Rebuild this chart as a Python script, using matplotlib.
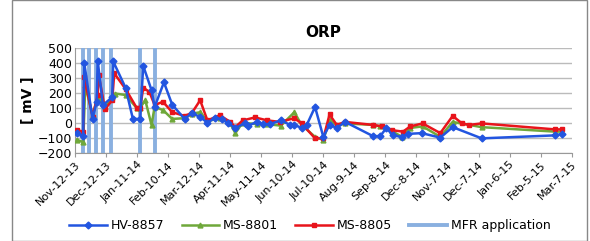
import matplotlib
matplotlib.use('Agg')
from matplotlib import pyplot as plt
from matplotlib.patches import Rectangle

# days after Nov-12-13 (x axis), values in mV
tick_labels = ['Nov-12-13', 'Dec-12-13', 'Jan-11-14', 'Feb-10-14', 'Mar-12-14',
               'Apr-11-14', 'May-11-14', 'Jun-10-14', 'Jul-10-14', 'Aug-9-14',
               'Sep-8-14', 'Dec-8-14', 'Nov-7-14', 'Dec-7-14', 'Jan-6-15',
               'Feb-5-15', 'Mar-7-15']
tick_days = [0, 30, 60, 90, 120, 150, 180, 210, 240, 270, 300, 330, 360, 390, 420, 450, 480]

hv_days = [2, 8, 9, 17, 21, 22, 27, 36, 37, 49, 56, 63, 66, 74, 77, 86, 94, 106,
           113, 121, 128, 135, 142, 148, 155, 164, 167, 176, 182, 188, 199, 208,
           212, 219, 224, 232, 240, 246, 253, 261, 288, 295, 301, 307, 316, 322,
           335, 353, 365, 393, 464, 471]
hv_8857 = [-70, -90, 400, 25, 140, 415, 118, 170, 410, 232, 25, 25, 380, 218, 105,
           270, 120, 25, 65, 37, 0, 30, 25, -5, -35, -5, -20, 5, -10, -10, 15, -15,
           -15, -35, -15, 105, -95, -15, -35, 5, -90, -90, -35, -85, -95, -75,
           -70, -100, -30, -105, -85, -75]

ms01_days = [2, 8, 10, 17, 22, 29, 36, 39, 49, 60, 63, 68, 74, 77, 85, 94, 106,
             113, 121, 128, 140, 150, 155, 162, 176, 186, 199, 212, 219, 232, 240,
             246, 253, 261, 288, 295, 306, 316, 324, 336, 353, 365, 393, 464, 471]
ms_8801 = [-115, -130, 250, 50, 170, 105, 170, 195, 185, 95, 100, 150, -15, 105,
           85, 25, 30, 60, 70, 10, 30, -5, -70, 0, -10, -10, -20, 70, -15, -95,
           -115, 15, -15, -5, -15, -25, -55, -95, -35, -25, -95, 5, -30, -60, -60]

ms05_days = [2, 8, 9, 17, 22, 23, 29, 36, 38, 49, 60, 63, 66, 72, 77, 85, 94, 106,
             113, 121, 128, 140, 150, 155, 162, 174, 186, 198, 212, 219, 232, 240,
             246, 253, 261, 288, 297, 306, 317, 324, 336, 353, 365, 374, 381, 393,
             464, 471]
ms_8805 = [-50, -60, 307, 40, 185, 320, 90, 150, 330, 225, 95, 95, 235, 205, 118,
           140, 70, 45, 65, 150, 15, 50, 5, -30, 15, 35, 15, 5, 30, -5, -105, -105,
           55, -15, 5, -15, -25, -50, -60, -25, -5, -70, 45, -5, -15, -5, -45, -45]

mfr_days = [8, 14, 20, 27, 35, 63, 77]

fig = plt.figure(figsize=(5.9, 2.41), dpi=100)
ax = fig.add_axes([0.127, 0.367, 0.842, 0.434])

# MFR application bars
for i, d in enumerate(mfr_days):
    ax.axvline(d, color='#8AB0E0', lw=2.8, zorder=1,
               label='MFR application' if i == 0 else None)

ax.plot(hv_days, hv_8857, c='#2255E0', marker='D', ms=3.5, lw=1.8, zorder=5, label='HV-8857')
ax.plot(ms01_days, ms_8801, c='#6FA83A', marker='^', ms=3.5, lw=1.8, zorder=3, label='MS-8801')
ax.plot(ms05_days, ms_8805, c='#E8141B', marker='s', ms=3.5, lw=1.8, zorder=4, label='MS-8805')

ax.set_xlim(0, 480)
ax.set_ylim(-200, 500)
ax.set_yticks(range(-200, 501, 100))
ax.set_xticks(tick_days)
ax.set_xticklabels(tick_labels, rotation=45, ha='right', rotation_mode='anchor', fontsize=8)
ax.tick_params(axis='y', labelsize=9, length=0, pad=2)
ax.tick_params(axis='x', length=3, color='#999999', pad=2)
ax.grid(axis='y', color='#BBBBBB', lw=1)
ax.set_axisbelow(True)
for s in ['top', 'right']:
    ax.spines[s].set_visible(False)
ax.spines['left'].set_color('#999999')
ax.spines['bottom'].set_color('#999999')

ax.set_title('ORP', fontsize=11, fontweight='bold', pad=8)
ax.set_ylabel('[ mV ]', fontsize=10, fontweight='bold', labelpad=2)

handles, labels = ax.get_legend_handles_labels()
order = [1, 2, 3, 0]
fig.legend([handles[i] for i in order], [labels[i] for i in order],
           loc='lower center', bbox_to_anchor=(0.525, -0.01), ncol=4, frameon=False,
           fontsize=9, handlelength=3, columnspacing=1.4, handletextpad=0.3)

fig.patches.append(Rectangle((0.02, 0.0), 0.975, 1.0, transform=fig.transFigure,
                             fill=False, edgecolor='#888888', lw=1))

plt.savefig('out.png', dpi=100)
